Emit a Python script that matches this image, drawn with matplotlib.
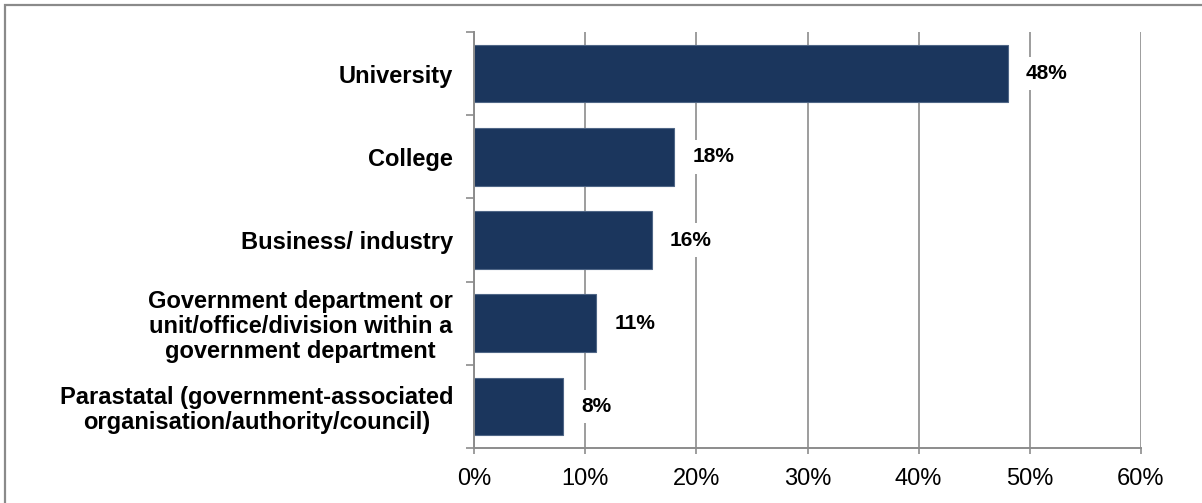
import matplotlib
matplotlib.use("Agg")
import matplotlib.pyplot as plt
from matplotlib.patches import Rectangle
from matplotlib.ticker import FixedLocator, PercentFormatter

plt.rcParams['font.family'] = ['Liberation Sans', 'DejaVu Sans']

categories = [
    "University",
    "College",
    "Business/ industry",
    "Government department or\nunit/office/division within a\ngovernment department",
    "Parastatal (government-associated\norganisation/authority/council)",
]
values = [48, 18, 16, 11, 8]
x_ticks = [0, 10, 20, 30, 40, 50, 60]

BAR = "#1b365d"
GRID = "#8c8c8c"

fig = plt.figure(figsize=(12.02, 5.03), dpi=100)
ax = fig.add_axes([474 / 1202, 1 - 448 / 503, (1141 - 474) / 1202, (448 - 32) / 503])

n = len(categories)
ypos = list(range(n))
ax.barh(ypos, values, height=0.69, color=BAR, edgecolor="#4f6686", linewidth=0.8, zorder=3)

ax.set_xlim(0, 60)
ax.set_ylim(n - 0.5, -0.5)

ax.set_xticks(x_ticks)
ax.xaxis.set_major_formatter(PercentFormatter(decimals=0))
ax.set_yticks(ypos)
ax.set_yticklabels(categories, fontsize=17, fontweight="bold", multialignment="center",
                   linespacing=1.1)
ax.yaxis.set_minor_locator(FixedLocator([i - 0.5 for i in range(n + 1)]))

ax.tick_params(axis="y", which="major", length=0, pad=15)
ax.tick_params(axis="y", which="minor", length=5.8, width=1.2, color=GRID, direction="out")
ax.tick_params(axis="x", which="major", length=4.3, width=1.2, color=GRID, direction="out",
               labelsize=17, pad=10)

ax.grid(axis="x", color=GRID, linewidth=1.2, zorder=0)
ax.set_axisbelow(True)
for side in ("top", "right"):
    ax.spines[side].set_visible(False)
for side in ("left", "bottom"):
    ax.spines[side].set_color(GRID)
    ax.spines[side].set_linewidth(1.4)
    ax.spines[side].set_zorder(4)

for y, v in zip(ypos, values):
    ax.annotate(f"{v}%", xy=(v, y), xytext=(13, 0), textcoords="offset points",
                ha="left", va="center", fontsize=15, fontweight="bold", zorder=5,
                bbox=dict(boxstyle="square,pad=0.35", facecolor="white", edgecolor="none"))

# outer frame around the chart area
fig.patches.append(Rectangle((5 / 1202, -0.2), 1.2, 1.2 - 4.5 / 503,
                             transform=fig.transFigure, fill=False,
                             edgecolor="#8a8a8a", linewidth=1.6))

fig.savefig("out.png", dpi=100)
